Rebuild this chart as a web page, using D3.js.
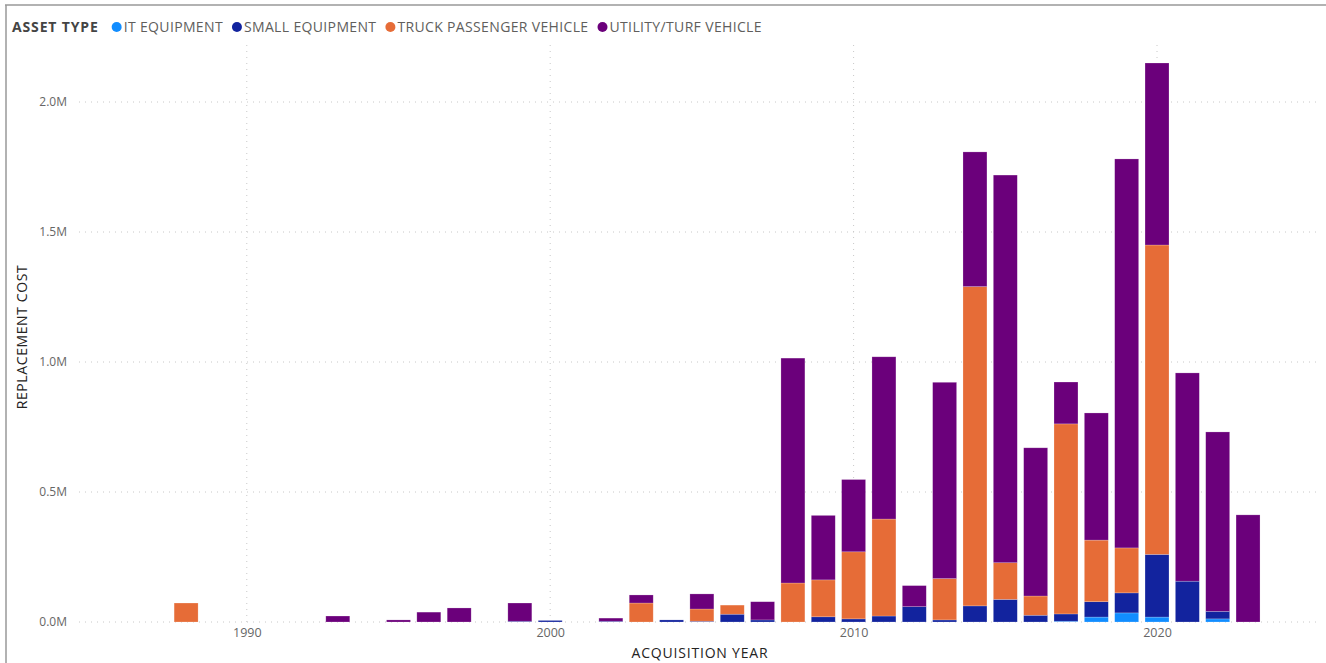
<!DOCTYPE html>
<html>
<head>
<meta charset="utf-8">
<script src="https://cdn.jsdelivr.net/npm/d3@7"></script>
<style>
  body { margin: 0; background: #fff; }
  svg text { font-family: "Segoe UI", "Open Sans", sans-serif; }
</style>
</head>
<body>
<div id="chart"></div>
<script>
// acquisition years that have a bar
const years = [1988, 1993, 1995, 1996, 1997, 1999, 2000, 2002, 2003, 2004, 2005, 2006, 2007,
  2008, 2009, 2010, 2011, 2012, 2013, 2014, 2015, 2016, 2017, 2018, 2019, 2020, 2021, 2022, 2023];

// replacement cost per asset type, in millions
const itEquipment = [0, 0, 0, 0, 0, 0, 0, 0, 0, 0, 0, 0, 0,
  0, 0, 0, 0, 0, 0, 0, 0, 0, 0.003, 0.019, 0.035, 0.019, 0, 0.012, 0];
const smallEquipment = [0, 0, 0, 0, 0, 0.003, 0.006, 0.003, 0, 0.008, 0.003, 0.030, 0.008,
  0, 0.020, 0.012, 0.023, 0.059, 0.008, 0.062, 0.087, 0.026, 0.028, 0.059, 0.077, 0.241, 0.157, 0.029, 0];
const truckPassenger = [0.073, 0, 0, 0, 0, 0, 0, 0, 0.073, 0, 0.047, 0.035, 0,
  0.150, 0.142, 0.258, 0.373, 0, 0.159, 1.228, 0.141, 0.074, 0.731, 0.237, 0.173, 1.190, 0, 0, 0];
const utilityTurf = [0, 0.023, 0.008, 0.038, 0.054, 0.070, 0, 0.012, 0.031, 0, 0.058, 0, 0.070,
  0.865, 0.248, 0.278, 0.624, 0.081, 0.755, 0.518, 1.491, 0.570, 0.161, 0.489, 1.496, 0.700, 0.801, 0.690, 0.412];

const seriesNames = ["IT EQUIPMENT", "SMALL EQUIPMENT", "TRUCK PASSENGER VEHICLE", "UTILITY/TURF VEHICLE"];
const seriesColors = ["#118DFF", "#12239E", "#E66C37", "#6B007B"];
const yTicks = [0, 0.5, 1.0, 1.5, 2.0];
const xTicks = [1990, 2000, 2010, 2020];

const width = 1326, height = 663;
const margin = { top: 45, right: 10, bottom: 41, left: 79 };

const svg = d3.select("#chart").append("svg")
  .attr("width", width)
  .attr("height", height);

// frame lines (top and left)
svg.append("line").attr("x1", 5).attr("x2", width).attr("y1", 5).attr("y2", 5)
  .attr("stroke", "#999").attr("stroke-width", 1.5);
svg.append("line").attr("x1", 6).attr("x2", 6).attr("y1", 5).attr("y2", height)
  .attr("stroke", "#999").attr("stroke-width", 1.5);

const rows = years.map((y, i) => ({
  year: y,
  it: itEquipment[i],
  se: smallEquipment[i],
  tr: truckPassenger[i],
  ut: utilityTurf[i]
}));
const keys = ["it", "se", "tr", "ut"];
const stacked = d3.stack().keys(keys)(rows);

const x = d3.scaleLinear()
  .domain([1984.47, 2025.24])
  .range([margin.left, width - margin.right]);
const y = d3.scaleLinear()
  .domain([0, 2.0])
  .range([622, 102]);

const barW = (x(1) - x(0)) * 0.79;

// grid
svg.append("g").selectAll("line")
  .data(yTicks)
  .join("line")
  .attr("x1", margin.left).attr("x2", width - margin.right)
  .attr("y1", d => y(d)).attr("y2", d => y(d))
  .attr("stroke", "#c8c8c8").attr("stroke-dasharray", "1,5");
svg.append("g").selectAll("line")
  .data(xTicks)
  .join("line")
  .attr("x1", d => x(d)).attr("x2", d => x(d))
  .attr("y1", margin.top).attr("y2", y(0))
  .attr("stroke", "#c8c8c8").attr("stroke-dasharray", "1,5");

// y axis labels
const yAxis = d3.axisLeft(y).tickValues(yTicks).tickSize(0).tickPadding(0)
  .tickFormat(d => d3.format(".1f")(d) + "M");
svg.append("g")
  .attr("transform", `translate(67,0)`)
  .call(yAxis)
  .call(g => g.select(".domain").remove())
  .call(g => g.selectAll("text").attr("fill", "#666").style("font-size", "12px")
    .style("font-family", "'Segoe UI', 'Open Sans', sans-serif"));

// x axis labels
const xAxis = d3.axisBottom(x).tickValues(xTicks).tickSize(0).tickPadding(0)
  .tickFormat(d3.format("d"));
svg.append("g")
  .attr("transform", `translate(0,628)`)
  .call(xAxis)
  .call(g => g.select(".domain").remove())
  .call(g => g.selectAll("text").attr("fill", "#666").style("font-size", "12.5px")
    .style("font-family", "'Segoe UI', 'Open Sans', sans-serif"));

// bars
svg.append("g").selectAll("g")
  .data(stacked)
  .join("g")
  .attr("fill", (d, i) => seriesColors[i])
  .selectAll("rect")
  .data(d => d.filter(s => s[1] - s[0] > 0))
  .join("rect")
  .attr("x", d => x(d.data.year) - barW / 2)
  .attr("width", barW)
  .attr("y", d => y(d[1]))
  .attr("height", d => y(d[0]) - y(d[1]))
  .attr("stroke", "#fff")
  .attr("stroke-opacity", 0.35)
  .attr("stroke-width", 0.6);

// axis titles
svg.append("text")
  .attr("x", 700).attr("y", 658)
  .attr("text-anchor", "middle")
  .attr("fill", "#252423")
  .style("font-size", "14px")
  .style("letter-spacing", "0.8px")
  .text("ACQUISITION YEAR");
svg.append("text")
  .attr("transform", "translate(27,337) rotate(-90)")
  .attr("text-anchor", "middle")
  .attr("fill", "#252423")
  .style("font-size", "14px")
  .style("letter-spacing", "0.6px")
  .text("REPLACEMENT COST");

// legend
const legend = svg.append("g").attr("transform", "translate(12,32)");
const title = legend.append("text")
  .attr("x", 0).attr("y", 0)
  .attr("fill", "#444")
  .style("font-size", "14px")
  .style("font-weight", "bold")
  .style("letter-spacing", "0.85px")
  .text("ASSET TYPE");
let lx = title.node().getComputedTextLength() + 13;
seriesNames.forEach((name, i) => {
  legend.append("circle")
    .attr("cx", lx + 5).attr("cy", -5).attr("r", 5)
    .attr("fill", seriesColors[i]);
  const t = legend.append("text")
    .attr("x", lx + 12).attr("y", 0)
    .attr("fill", "#605e5c")
    .style("font-size", "14px")
    .style("letter-spacing", "0.35px")
    .text(name);
  lx += 12 + t.node().getComputedTextLength() + 9;
});
</script>
</body>
</html>
